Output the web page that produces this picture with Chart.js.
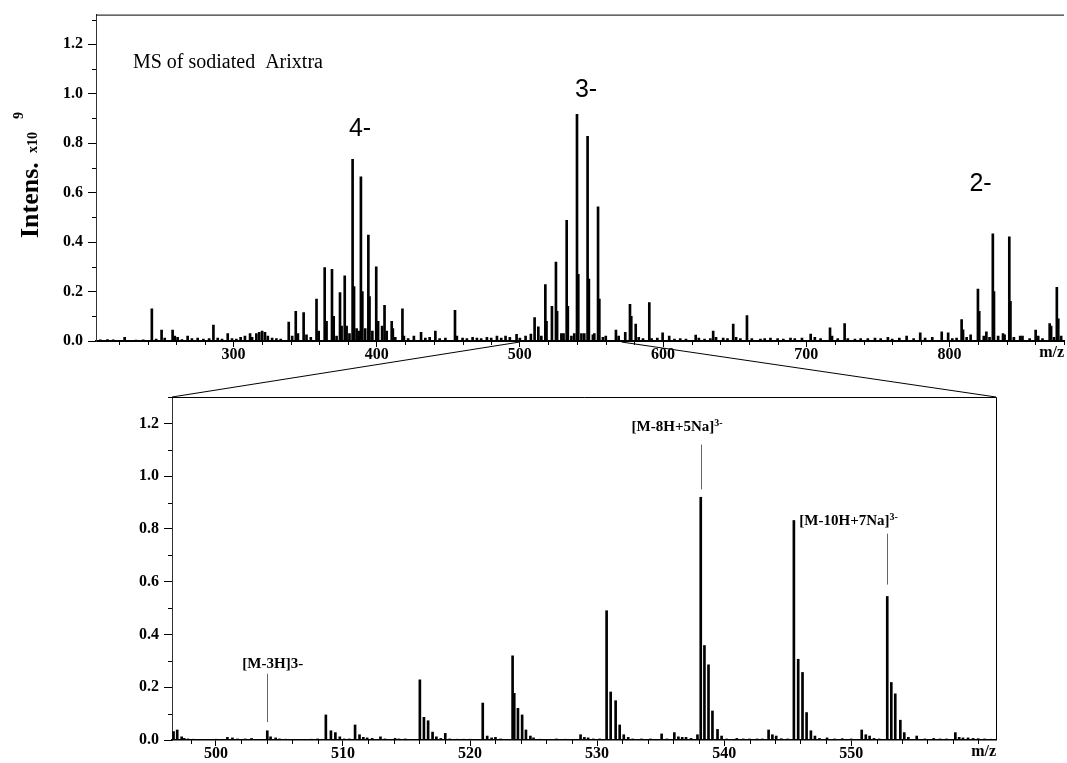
<!DOCTYPE html>
<html lang="en">
<head>
<meta charset="UTF-8">
<title>MS of sodiated Arixtra</title>
<style>
  body { margin: 0; background: #fff; width: 1067px; height: 763px; position: relative; overflow: hidden; }
  canvas { position: absolute; left: 0; }
  #topChart { top: 0; }
  #zoomChart { top: 360px; }
  #links { top: 0; pointer-events: none; }
</style>
</head>
<body>
<canvas id="topChart" width="1067" height="372"></canvas>
<canvas id="zoomChart" width="1067" height="403"></canvas>
<canvas id="links" width="1067" height="763"></canvas>

<script src="https://cdn.jsdelivr.net/npm/chart.js"></script>
<script>
// full spectrum (m/z, intensity x10^9)
const topMz = [207, 212, 216, 224, 232, 237, 243, 246, 249.8, 252, 257.5, 259, 261, 264, 268, 271, 275, 279, 283, 286,
  289, 292, 296, 299, 302, 305, 308, 311.6, 313, 316, 318, 320, 322, 324, 327, 330, 333, 338.6, 341, 343.5,
  345, 349, 351, 354, 358, 359.5, 363.7, 365, 368.8, 370, 372, 374.4, 375.5, 377.7, 379, 381, 383.2, 384.2, 386, 387.5,
  389, 390, 392, 394.2, 395, 397, 399.7, 401, 403.8, 405.5, 407, 410.5, 411.3, 413, 418, 419, 422, 426, 431, 434,
  437, 441, 444, 448, 454.7, 456, 460, 463, 467, 470, 473, 477, 480, 484, 487, 490, 493, 497.7, 500, 504,
  507.7, 510.3, 512.9, 515, 517.8, 518.6, 522.4, 525.2, 526, 529, 530.5, 532.7, 533.5, 536, 538, 539.9, 540.8, 543, 545, 547.3,
  548.2, 551, 552, 554.6, 555.5, 558, 560, 567.1, 569, 573.6, 576.9, 577.8, 580.9, 583, 586, 590.4, 592, 596, 599.7, 604.3,
  608, 612, 616, 622.8, 625, 629, 633, 635, 637, 642, 645, 649, 651, 654, 658.6, 662, 668, 671, 675, 680,
  684, 689, 692, 697, 703.1, 706, 710, 716.6, 718, 722, 726.8, 729, 734, 738, 743, 748, 752, 757, 760, 765,
  770.1, 775, 779.6, 783, 788, 794.6, 799.1, 802, 805, 808.5, 809.5, 812, 814.8, 819.9, 820.8, 824, 825.8, 828, 830.3, 831.1,
  834, 837.4, 838.5, 841.8, 842.6, 845, 849.4, 851, 856, 860.2, 862, 865, 870, 871, 873, 875, 876, 878];
const topInt = [0.005, 0.006, 0.005, 0.015, 0.004, 0.005, 0.13, 0.008, 0.044, 0.012, 0.044, 0.02, 0.015, 0.006, 0.02, 0.01, 0.012, 0.008, 0.01, 0.064,
  0.012, 0.008, 0.03, 0.01, 0.008, 0.015, 0.02, 0.03, 0.015, 0.03, 0.035, 0.04, 0.035, 0.02, 0.012, 0.01, 0.008, 0.077, 0.02, 0.12,
  0.03, 0.115, 0.025, 0.015, 0.17, 0.04, 0.297, 0.08, 0.29, 0.1, 0.02, 0.196, 0.06, 0.264, 0.06, 0.03, 0.735, 0.22, 0.05, 0.04,
  0.664, 0.2, 0.05, 0.428, 0.18, 0.04, 0.30, 0.08, 0.06, 0.144, 0.04, 0.08, 0.05, 0.015, 0.13, 0.02, 0.01, 0.02, 0.035, 0.012,
  0.015, 0.04, 0.01, 0.012, 0.124, 0.02, 0.012, 0.01, 0.015, 0.012, 0.01, 0.015, 0.012, 0.02, 0.012, 0.02, 0.015, 0.027, 0.012, 0.02,
  0.028, 0.095, 0.057, 0.02, 0.228, 0.08, 0.14, 0.319, 0.12, 0.03, 0.03, 0.488, 0.14, 0.02, 0.03, 0.917, 0.27, 0.03, 0.03, 0.828,
  0.25, 0.025, 0.03, 0.543, 0.17, 0.015, 0.02, 0.044, 0.02, 0.035, 0.148, 0.1, 0.068, 0.015, 0.01, 0.155, 0.01, 0.012, 0.033, 0.02,
  0.008, 0.01, 0.008, 0.024, 0.012, 0.008, 0.01, 0.04, 0.015, 0.012, 0.01, 0.068, 0.015, 0.01, 0.103, 0.01, 0.008, 0.01, 0.012, 0.01,
  0.008, 0.012, 0.01, 0.012, 0.028, 0.015, 0.01, 0.053, 0.02, 0.01, 0.07, 0.01, 0.008, 0.01, 0.01, 0.012, 0.01, 0.015, 0.008, 0.012,
  0.02, 0.01, 0.033, 0.012, 0.015, 0.037, 0.033, 0.01, 0.012, 0.087, 0.045, 0.015, 0.025, 0.21, 0.12, 0.02, 0.037, 0.015, 0.433, 0.2,
  0.02, 0.03, 0.025, 0.421, 0.16, 0.015, 0.02, 0.02, 0.01, 0.044, 0.02, 0.01, 0.07, 0.06, 0.015, 0.217, 0.09, 0.02];

// expanded region 496.5 - 561.5
const zoomMz = [496.66, 496.95, 497.3, 497.5, 497.8, 498.2, 500, 500.9, 501.3, 501.7, 502.3, 502.8, 504.04, 504.3, 504.7, 505, 505.5, 507.5, 508, 508.65,
  509.05, 509.4, 509.75, 510.1, 510.5, 510.95, 511.3, 511.6, 511.9, 512.3, 512.95, 513.3, 514.1, 514.4, 514.9, 516.05, 516.37, 516.7, 517.05, 517.35,
  517.7, 518.05, 518.4, 519, 519.5, 520, 521, 521.35, 521.7, 522, 522.4, 523.35, 523.48, 523.77, 524.1, 524.4, 524.75, 525, 525.5, 526.8,
  527.5, 528.7, 529, 529.3, 529.7, 530.2, 530.75, 531.07, 531.46, 531.78, 532.1, 532.45, 532.8, 533.5, 534.2, 535.08, 535.5, 536.08, 536.4, 536.7,
  537, 537.4, 537.9, 538.16, 538.45, 538.77, 539.08, 539.48, 539.8, 540.2, 541, 541.5, 542, 542.6, 543, 543.5, 543.8, 544.1, 544.5, 545,
  545.49, 545.83, 546.17, 546.49, 546.83, 547.15, 547.5, 548.1, 548.7, 549.3, 550, 550.83, 551.15, 551.45, 551.8, 552.2, 552.84, 553.16, 553.47, 553.87,
  554.18, 554.5, 555.16, 555.8, 556.5, 557, 557.5, 558.2, 558.5, 558.8, 559.2, 559.6, 560, 560.5, 561];
const zoomInt = [0.032, 0.038, 0.012, 0.006, 0.004, 0.003, 0.003, 0.01, 0.008, 0.004, 0.004, 0.006, 0.035, 0.012, 0.008, 0.004, 0.003, 0.003, 0.004, 0.095,
  0.035, 0.028, 0.012, 0.004, 0.004, 0.057, 0.02, 0.01, 0.008, 0.006, 0.012, 0.004, 0.006, 0.004, 0.004, 0.228, 0.086, 0.073, 0.03, 0.012,
  0.006, 0.025, 0.004, 0.003, 0.003, 0.003, 0.14, 0.015, 0.008, 0.01, 0.004, 0.319, 0.177, 0.12, 0.095, 0.038, 0.015, 0.008, 0.003, 0.004,
  0.003, 0.02, 0.01, 0.008, 0.004, 0.004, 0.49, 0.182, 0.149, 0.057, 0.02, 0.01, 0.004, 0.004, 0.004, 0.023, 0.004, 0.028, 0.012, 0.01,
  0.01, 0.006, 0.02, 0.92, 0.358, 0.285, 0.11, 0.04, 0.015, 0.004, 0.006, 0.004, 0.004, 0.004, 0.004, 0.038, 0.02, 0.015, 0.005, 0.004,
  0.832, 0.306, 0.256, 0.104, 0.035, 0.015, 0.006, 0.008, 0.004, 0.005, 0.004, 0.038, 0.02, 0.015, 0.006, 0.004, 0.544, 0.218, 0.175, 0.075,
  0.028, 0.01, 0.015, 0.004, 0.006, 0.004, 0.004, 0.028, 0.01, 0.008, 0.008, 0.006, 0.005, 0.004, 0.003];

const yTicks = [0, 0.2, 0.4, 0.6, 0.8, 1.0, 1.2];
const yMinor = [0.1, 0.3, 0.5, 0.7, 0.9, 1.1, 1.3];
const topXTicks = [300, 400, 500, 600, 700, 800];
const topXMinor = [220, 240, 260, 280, 320, 340, 360, 380, 420, 440, 460, 480, 520, 540, 560, 580,
  620, 640, 660, 680, 720, 740, 760, 780, 820, 840, 860, 880];
const zoomXTicks = [500, 510, 520, 530, 540, 550];
const zoomXMinor = [498, 502, 504, 506, 508, 512, 514, 516, 518, 522, 524, 526, 528, 532, 534, 536, 538,
  542, 544, 546, 548, 552, 554, 556, 558, 560];
const zoomRange = [500, 571];

const topLabels = [
  { text: 'MS of sodiated  Arixtra', mz: 229.8, y: 1.124, align: 'left', font: '20px "Liberation Serif", serif' },
  { text: '4-', mz: 388.4, y: 0.856, align: 'center', font: '25px "Liberation Sans", sans-serif' },
  { text: '3-', mz: 546.2, y: 1.016, align: 'center', font: '25px "Liberation Sans", sans-serif' },
  { text: '2-', mz: 821.7, y: 0.634, align: 'center', font: '25px "Liberation Sans", sans-serif' }
];
const ionLabels = [
  { text: '[M-3H]3-', sup: '', mz: 504.04, textMz: 504.47, textY: 0.273, from: 0.251, to: 0.068 },
  { text: '[M-8H+5Na]', sup: '3-', mz: 538.16, textMz: 536.3, textY: 1.17, from: 1.12, to: 0.95 },
  { text: '[M-10H+7Na]', sup: '3-', mz: 552.84, textMz: 549.8, textY: 0.813, from: 0.782, to: 0.589 }
];

const serifBold = { family: '"Liberation Serif", "Times New Roman", serif', size: 16, weight: 'bold' };

function axes(xMin, xMax, xTicks, yMax, yWidth, xHeight, baseWidth) {
  return {
    x: {
      type: 'linear', min: xMin, max: xMax, offset: false,
      afterBuildTicks: s => { s.ticks = xTicks.map(v => ({ value: v })); },
      afterFit: s => { s.height = xHeight; },
      ticks: { autoSkip: false, maxRotation: 0, padding: -2, color: '#000', font: serifBold, callback: v => String(v) },
      grid: { drawOnChartArea: false, drawTicks: true, tickLength: 6, color: '#000', offset: false },
      border: { color: '#000', width: baseWidth }
    },
    y: {
      type: 'linear', min: 0, max: yMax,
      afterBuildTicks: s => { s.ticks = yTicks.map(v => ({ value: v })); },
      afterFit: s => { s.width = yWidth; },
      ticks: { padding: 5, color: '#000', font: serifBold, callback: v => v.toFixed(1) },
      grid: { drawOnChartArea: false, drawTicks: true, tickLength: 8, color: '#000' },
      border: { color: '#333', width: 1 }
    }
  };
}

function minorTicks(chart, xs, ys) {
  const { ctx, chartArea: a, scales: { x, y } } = chart;
  ctx.save();
  ctx.strokeStyle = '#000';
  ctx.lineWidth = 1;
  ctx.beginPath();
  xs.forEach(v => {
    const px = Math.round(x.getPixelForValue(v)) + 0.5;
    ctx.moveTo(px, a.bottom); ctx.lineTo(px, a.bottom + 4);
  });
  ys.forEach(v => {
    const py = Math.round(y.getPixelForValue(v)) + 0.5;
    ctx.moveTo(a.left, py); ctx.lineTo(a.left - 4, py);
  });
  ctx.stroke();
  ctx.restore();
}

function axisUnit(chart) {
  const { ctx, chartArea: a } = chart;
  ctx.save();
  ctx.font = 'bold 16px "Liberation Serif", serif';
  ctx.fillStyle = '#000';
  ctx.textAlign = 'right';
  ctx.textBaseline = 'alphabetic';
  ctx.fillText('m/z', a.right, a.bottom + 16);
  ctx.restore();
}

const topDecor = {
  id: 'topDecor',
  afterDraw(chart) {
    const { ctx, chartArea: a, scales: { x, y } } = chart;
    minorTicks(chart, topXMinor, yMinor);
    axisUnit(chart);
    ctx.save();
    ctx.strokeStyle = '#000';
    ctx.lineWidth = 1;
    ctx.beginPath();
    ctx.moveTo(a.left, a.top + 0.5); ctx.lineTo(a.right, a.top + 0.5);
    ctx.stroke();

    ctx.fillStyle = '#000';
    ctx.textBaseline = 'middle';
    topLabels.forEach(l => {
      ctx.font = l.font;
      ctx.textAlign = l.align;
      ctx.fillText(l.text, x.getPixelForValue(l.mz), y.getPixelForValue(l.y));
    });

    // y title: "Intens. x10^9"
    ctx.rotate(-Math.PI / 2);
    ctx.textAlign = 'left';
    ctx.textBaseline = 'alphabetic';
    ctx.font = 'bold 26px "Liberation Serif", serif';
    ctx.fillText('Intens.', -238, 38);
    ctx.font = 'bold 14px "Liberation Serif", serif';
    const w = ctx.measureText('x10').width;
    ctx.fillText('x10', -132 - w, 37);
    ctx.fillText('9', -119, 23);
    ctx.restore();
  }
};

const zoomDecor = {
  id: 'zoomDecor',
  afterDraw(chart) {
    const { ctx, chartArea: a, scales: { x, y } } = chart;
    minorTicks(chart, zoomXMinor, yMinor);
    axisUnit(chart);
    ctx.save();
    ctx.strokeStyle = '#000';
    ctx.lineWidth = 1;
    ctx.beginPath();
    ctx.moveTo(a.left, a.top + 0.5); ctx.lineTo(a.right + 0.5, a.top + 0.5);
    ctx.lineTo(a.right + 0.5, a.bottom);
    ctx.stroke();

    ionLabels.forEach(l => {
      const px = Math.round(x.getPixelForValue(l.mz)) + 0.5;
      ctx.strokeStyle = '#666';
      ctx.beginPath();
      ctx.moveTo(px, y.getPixelForValue(l.from));
      ctx.lineTo(px, y.getPixelForValue(l.to));
      ctx.stroke();

      ctx.fillStyle = '#000';
      ctx.textBaseline = 'alphabetic';
      ctx.textAlign = 'left';
      ctx.font = 'bold 15px "Liberation Serif", serif';
      const w1 = ctx.measureText(l.text).width;
      ctx.font = 'bold 10px "Liberation Serif", serif';
      const w2 = l.sup ? ctx.measureText(l.sup).width : 0;
      const x0 = x.getPixelForValue(l.textMz) - (w1 + w2) / 2;
      const by = y.getPixelForValue(l.textY);
      ctx.font = 'bold 15px "Liberation Serif", serif';
      ctx.fillText(l.text, x0, by);
      if (l.sup) {
        ctx.font = 'bold 10px "Liberation Serif", serif';
        ctx.fillText(l.sup, x0 + w1, by - 5);
      }
    });
    ctx.restore();
  }
};

function sticks(mz, vals, thick) {
  return {
    data: mz.map((m, i) => ({ x: m, y: vals[i] })),
    backgroundColor: '#000',
    borderWidth: 0,
    barThickness: thick,
    grouped: false
  };
}

const common = {
  responsive: false,
  animation: false,
  devicePixelRatio: 1,
  plugins: { legend: { display: false }, tooltip: { enabled: false } }
};

const topChart = new Chart(document.getElementById('topChart'), {
  type: 'bar',
  data: { datasets: [sticks(topMz, topInt, 2)] },
  options: Object.assign({}, common, {
    layout: { padding: { top: 12, right: 3, left: 0, bottom: 0 } },
    scales: axes(204, 880, topXTicks, 1.32, 96, 31, 2)
  }),
  plugins: [topDecor]
});

const zoomChart = new Chart(document.getElementById('zoomChart'), {
  type: 'bar',
  data: { datasets: [sticks(zoomMz, zoomInt, 2)] },
  options: Object.assign({}, common, {
    layout: { padding: { top: 37, right: 71, left: 0, bottom: 0 } },
    scales: axes(496.54, 561.4, zoomXTicks, 1.30, 172, 23, 1.5)
  }),
  plugins: [zoomDecor]
});

// lines joining the expanded m/z window to the lower panel
const lc = document.getElementById('links').getContext('2d');
const tx = topChart.scales.x;
const base = topChart.chartArea.bottom + 1;
const za = zoomChart.chartArea;
const off = 360;
lc.strokeStyle = '#000';
lc.lineWidth = 1;
lc.beginPath();
lc.moveTo(tx.getPixelForValue(zoomRange[0]), base);
lc.lineTo(za.left, za.top + off);
lc.moveTo(tx.getPixelForValue(zoomRange[1]), base);
lc.lineTo(za.right, za.top + off);
lc.stroke();
</script>
</body>
</html>
